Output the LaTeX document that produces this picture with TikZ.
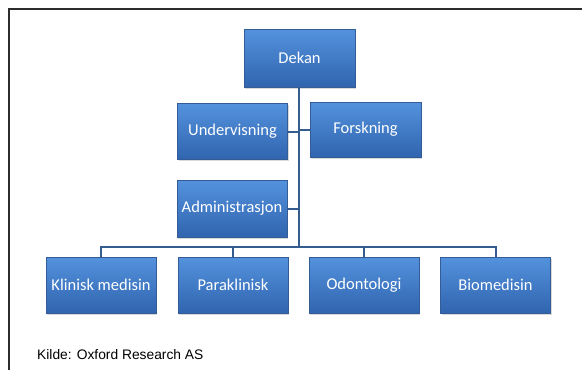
\documentclass[tikz,border=0pt]{standalone}
\usepackage{fontspec}
\newfontfamily\boxfont{Carlito}
\newfontfamily\notefont{Liberation Sans}
\usetikzlibrary{shadows}
\definecolor{boxtop}{RGB}{84,146,222}
\definecolor{boxbot}{RGB}{48,100,174}
\definecolor{boxline}{RGB}{52,92,150}
\definecolor{linkcol}{RGB}{52,92,142}
\definecolor{framecol}{RGB}{45,45,45}
\tikzset{
  orgbox/.style={rectangle, draw=boxline, line width=0.8pt,
    top color=boxtop, bottom color=boxbot, text=white,
    minimum width=110pt, minimum height=56pt, inner sep=0pt,
    font=\boxfont\fontsize{16.5}{19}\selectfont,
    drop shadow={shadow xshift=1.2pt, shadow yshift=-1.8pt, opacity=0.3}},
  link/.style={draw=linkcol, line width=2pt}
}
\begin{document}
\begin{tikzpicture}[x=1pt, y=-1pt]
\useasboundingbox (0,0) rectangle (582,370);
% outer frame (top and left edges)
\draw[framecol, line width=1.5pt] (9,370) -- (9,9) -- (582,9);

% boxes
\node[orgbox, minimum width=111pt, minimum height=58pt] (dekan) at (299.5,58) {Dekan};
\node[orgbox] (under) at (232.5,131.5) {Undervisning};
\node[orgbox, minimum width=111pt, minimum height=55pt] (forsk) at (365.5,129.5) {Forskning};
\node[orgbox, minimum height=57pt] (admin) at (232,208.5) {Administrasjon};
\node[orgbox] (klin) at (101,285) {Klinisk medisin};
\node[orgbox] (para) at (233,285) {Paraklinisk};
\node[orgbox] (odon) at (364,285) {Odontologi};
\node[orgbox] (bio) at (495.5,285) {Biomedisin};

\coordinate (hub) at (299,246.5);

% connectors
\draw[link] (dekan.south -| hub) -- (hub);
\draw[link] (under.east) -- (under.east -| hub);
\draw[link] (forsk.west) -- (forsk.west -| hub);
\draw[link] (admin.east) -- (admin.east -| hub);
\draw[link] (klin.north) |- (hub) -| (bio.north);
\draw[link] (para.north) -- (para.north |- hub);
\draw[link] (odon.north) -- (odon.north |- hub);

\node[anchor=base west, inner sep=0pt, font=\notefont\fontsize{13.8}{16}\selectfont] (src) at (37,359) {Kilde: Oxford Research AS};
\end{tikzpicture}
\end{document}
